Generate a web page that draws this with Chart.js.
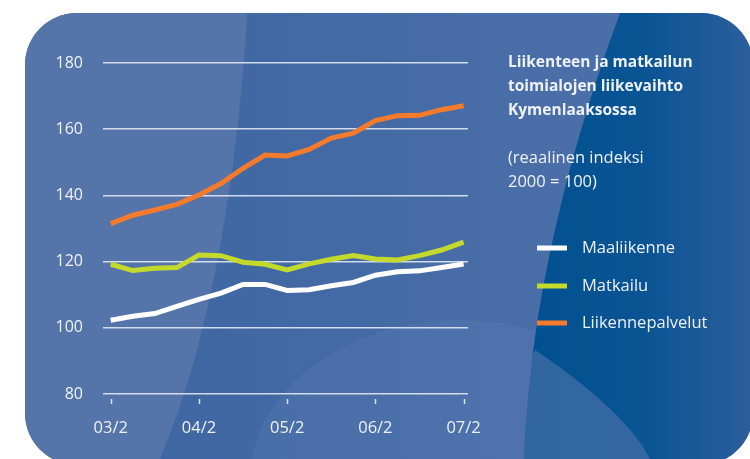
<!DOCTYPE html>
<html>
<head>
<meta charset="utf-8">
<style>
  html, body { margin: 0; padding: 0; background: #fff; }
  #wrap { width: 750px; height: 459px; position: relative; }
</style>
<script src="https://cdn.jsdelivr.net/npm/chart.js@4"></script>
</head>
<body>
<div id="wrap"><canvas id="myChart" width="750" height="459"></canvas></div>
<script>
// Neljännekset 03/2 ... 07/2
const quarters = ['03/2','03/3','03/4','04/1','04/2','04/3','04/4','05/1','05/2','05/3','05/4','06/1','06/2','06/3','06/4','07/1','07/2'];
const tickLabels = ['03/2','04/2','05/2','06/2','07/2'];

const maaliikenne = [102.3,103.5,104.3,106.5,108.6,110.5,113.1,113.1,111.3,111.5,112.7,113.7,115.9,116.9,117.2,118.2,119.3];
const matkailu = [119.2,117.3,118.0,118.2,122.0,121.8,119.8,119.2,117.5,119.3,120.7,121.8,120.8,120.5,121.8,123.5,125.9];
const liikennepalvelut = [131.5,134.0,135.6,137.3,140.1,143.6,148.2,152.2,151.9,153.9,157.3,158.8,162.6,164.1,164.2,165.9,167.1];

const titleLines = ['Liikenteen ja matkailun', 'toimialojen liikevaihto', 'Kymenlaaksossa'];
const noteLines = ['(reaalinen indeksi', '2000 = 100)'];

const FONT = '"Open Sans", sans-serif';
const TEXT = '#eef2f8';

// Taustan sininen laatta
const bgPlugin = {
  id: 'bg',
  beforeDraw(c) {
    const ctx = c.ctx;
    ctx.save();
    ctx.fillStyle = '#fff';
    ctx.fillRect(0, 0, 750, 459);
    ctx.beginPath();
    ctx.roundRect(25, 13, 728, 452, 52);
    ctx.clip();
    // Grundfarbe
    let g = ctx.createLinearGradient(0, 0, 750, 0);
    g.addColorStop(0, '#3a64a0');
    g.addColorStop(0.75, '#4a6ea8');
    ctx.fillStyle = g;
    ctx.fillRect(0, 0, 750, 459);
    // helle linke Fläche
    ctx.fillStyle = '#5574aa';
    ctx.beginPath();
    ctx.moveTo(0, 0);
    ctx.lineTo(248, 0);
    ctx.bezierCurveTo(240, 150, 215, 330, 160, 459);
    ctx.lineTo(0, 459);
    ctx.closePath();
    ctx.fill();
    // Bogen unten
    ctx.fillStyle = 'rgba(100,130,185,0.22)';
    ctx.beginPath();
    ctx.ellipse(460, 480, 210, 160, 0, Math.PI, 2 * Math.PI);
    ctx.fill();
    // dunkle rechte Fläche
    g = ctx.createLinearGradient(520, 0, 750, 0);
    g.addColorStop(0, '#00508f');
    g.addColorStop(0.55, '#0a5494');
    g.addColorStop(1, '#2c5e9c');
    ctx.fillStyle = g;
    ctx.beginPath();
    ctx.moveTo(625, 0);
    ctx.lineTo(750, 0);
    ctx.lineTo(750, 459);
    ctx.lineTo(524, 459);
    ctx.bezierCurveTo(528, 330, 560, 170, 625, 0);
    ctx.closePath();
    ctx.fill();
    // heller Bogen rechts unten
    ctx.fillStyle = 'rgba(90,120,175,0.55)';
    ctx.beginPath();
    ctx.moveTo(524, 459);
    ctx.bezierCurveTo(526, 400, 528, 360, 535, 350);
    ctx.bezierCurveTo(580, 380, 630, 420, 650, 459);
    ctx.closePath();
    ctx.fill();
    ctx.restore();
  },
  afterDraw(c) {
    const ctx = c.ctx;
    const x = c.scales.x;
    ctx.save();
    // Teilstriche
    ctx.strokeStyle = '#dfe6f1';
    ctx.lineWidth = 1.5;
    [0, 4, 8, 12, 16].forEach(v => {
      const px = Math.round(x.getPixelForValue(v)) + 0.5;
      ctx.beginPath();
      ctx.moveTo(px, 399);
      ctx.lineTo(px, 404);
      ctx.stroke();
    });
    // Otsikko ja selite
    ctx.fillStyle = TEXT;
    ctx.textBaseline = 'alphabetic';
    ctx.font = 'bold 15.5px ' + FONT;
    titleLines.forEach((t, i) => ctx.fillText(t, 508, 67 + i * 24));
    ctx.font = '16.5px ' + FONT;
    noteLines.forEach((t, i) => ctx.fillText(t, 508, 163 + i * 24));
    const ys = [248, 286, 323];
    c.data.datasets.forEach((ds, i) => {
      ctx.fillStyle = ds.borderColor;
      ctx.fillRect(537, ys[i] - 2.5, 30, 5);
      ctx.fillStyle = TEXT;
      ctx.textBaseline = 'middle';
      ctx.fillText(ds.label, 582, ys[i]);
    });
    ctx.restore();
  }
};

const ctx = document.getElementById('myChart').getContext('2d');
const chart = new Chart(ctx, {
  type: 'line',
  data: {
    datasets: [
      { label: 'Maaliikenne', data: maaliikenne.map((v, i) => ({ x: i, y: v })), borderColor: '#ffffff' },
      { label: 'Matkailu', data: matkailu.map((v, i) => ({ x: i, y: v })), borderColor: '#c3d92c' },
      { label: 'Liikennepalvelut', data: liikennepalvelut.map((v, i) => ({ x: i, y: v })), borderColor: '#f47a2c' }
    ].map(d => Object.assign(d, { borderWidth: 5, pointRadius: 0, tension: 0, borderJoinStyle: 'miter', fill: false }))
  },
  options: {
    responsive: false,
    animation: false,
    layout: { padding: { left: 0, top: 63, right: 282, bottom: 0 } },
    plugins: { legend: { display: false }, tooltip: { enabled: false } },
    scales: {
      x: {
        type: 'linear',
        min: -0.35,
        max: 16.2,
        afterBuildTicks: s => { s.ticks = [0, 4, 8, 12, 16].map(v => ({ value: v })); },
        afterFit: s => { s.height = 65; },
        grid: { display: false },
        border: { display: false },
        ticks: {
          color: TEXT,
          font: { family: FONT, size: 16.5 },
          padding: 16,
          maxRotation: 0,
          callback: v => tickLabels[v / 4]
        }
      },
      y: {
        min: 80,
        max: 180,
        afterFit: s => { s.width = 103; },
        grid: { color: 'rgba(235,240,248,0.85)', lineWidth: 1.5, drawTicks: false },
        border: { display: false },
        ticks: {
          stepSize: 20,
          color: TEXT,
          font: { family: FONT, size: 16 },
          padding: 20
        }
      }
    }
  },
  plugins: [bgPlugin]
});
</script>
</body>
</html>
